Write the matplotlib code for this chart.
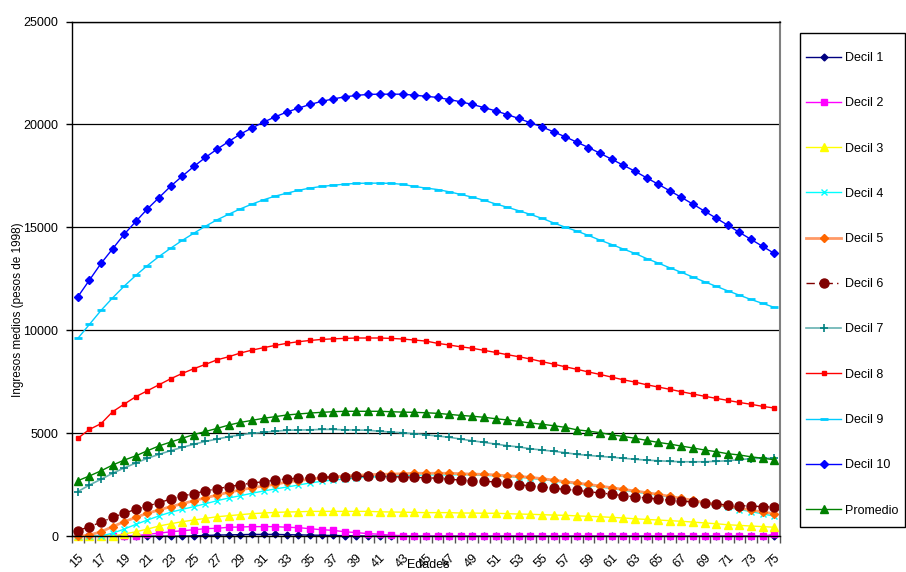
import matplotlib
matplotlib.use("Agg")
import matplotlib.pyplot as plt
from matplotlib.patches import Rectangle

plt.rcParams['font.family'] = ['Liberation Sans', 'DejaVu Sans']

# edades 15..75
ages = list(range(15, 76))

decil1 = [0, 0, 0, 0, 0, 0, 0, 0, 0, 0,
          20, 40, 60, 70, 80, 90, 90, 90, 80, 70, 60, 50, 40, 30, 20, 10, 5,
          0, 0, 0, 0, 0, 0, 0, 0, 0, 0, 0, 0, 0, 0, 0, 0, 0, 0, 0, 0, 0, 0,
          0, 0, 0, 0, 0, 0, 0, 0, 0, 0, 0, 20]
decil2 = [0, 0, 0, 0, 0,
          20, 100, 150, 220, 270, 320, 370, 390, 440, 450, 470, 470, 470, 440,
          420, 370, 320, 290, 220, 180, 130, 100, 50, 30,
          0, 0, 0, 0, 0, 0, 0, 0, 0, 0, 0, 0, 0, 0, 0, 0, 0, 0, 0, 0, 0, 0,
          0, 0, 0, 0, 0, 0, 0, 0, 0, 100]
decil3 = [0, 0, 0, 30, 110, 220, 350, 500, 610, 710, 790, 870, 950, 1000,
          1050, 1100, 1130, 1160, 1180, 1190, 1210, 1210, 1210, 1210, 1210,
          1210, 1190, 1180, 1170, 1160, 1150,
          1150, 1150, 1130, 1130, 1120, 1120, 1100, 1080, 1070, 1050, 1030,
          1020, 990, 970, 950, 920, 890, 850, 820, 790, 760, 730, 690, 650,
          610, 560, 530, 500, 470, 440]
decil4 = [0, 0, 20, 150, 350, 580, 790, 990, 1170, 1310, 1440, 1580, 1730,
          1860, 1970, 2090, 2200, 2300, 2390, 2490, 2590, 2670, 2730, 2780,
          2830, 2880, 2890, 2930, 2940, 2960, 2980, 2980, 2980,
          2990, 2975, 2960, 2930, 2895, 2865, 2815, 2750, 2690, 2605, 2540,
          2475, 2395, 2310, 2235, 2150, 2070, 1990, 1895, 1800, 1700, 1590,
          1505, 1405, 1300, 1200, 1090, 980]
decil5 = [0, 60, 220, 470, 710, 920, 1120, 1280, 1440, 1580, 1730, 1870,
          2000, 2140, 2250, 2360, 2440, 2520, 2640, 2700, 2770, 2830, 2880,
          2930, 2960, 2990, 3010, 3020, 3040, 3060, 3060, 3060, 3060,
          3040, 3020, 3010, 2980, 2940, 2910, 2860, 2800, 2730, 2650, 2590,
          2520, 2440, 2360, 2280, 2200, 2120, 2040, 1940, 1840, 1750, 1630,
          1550, 1460, 1360, 1280, 1180, 1100]
decil6 = [270, 470, 680, 920, 1120, 1310, 1470, 1630, 1810, 1960, 2070,
          2200, 2310, 2410, 2500, 2590, 2650, 2730, 2780, 2820, 2840, 2860,
          2890, 2890, 2910, 2910, 2910, 2890, 2880, 2860, 2840, 2820,
          2770, 2730, 2700, 2670, 2640, 2570, 2510, 2440, 2410, 2330, 2280,
          2230, 2170, 2100, 2050, 1970, 1920, 1860, 1810, 1750, 1700, 1670,
          1620, 1570, 1520, 1490, 1470, 1440, 1420]
decil7 = [2170, 2490, 2770, 3060, 3320, 3560, 3790, 3980, 4160, 4320, 4470,
          4610, 4720, 4840, 4920, 5000, 5050, 5100, 5150, 5160, 5170, 5190,
          5190, 5170, 5160, 5150, 5100, 5060, 5030, 4980, 4930, 4870, 4810,
          4720, 4640, 4560, 4480, 4400, 4340, 4250, 4190, 4130, 4060, 3980,
          3930, 3880, 3840, 3790, 3740, 3700, 3670, 3640, 3620, 3620, 3620,
          3640, 3670, 3720, 3770, 3790, 3790]
decil8 = [4760, 5190, 5470, 6050, 6420, 6780, 7070, 7360, 7650, 7910, 8140,
          8350, 8570, 8720, 8900, 9040, 9160, 9270, 9370, 9450, 9510, 9560,
          9590, 9610, 9630, 9630, 9630, 9610, 9580, 9530, 9480,
          9370, 9290, 9200, 9130, 9030, 8930, 8820, 8720, 8610, 8480, 8360,
          8230, 8110, 7980, 7860, 7730, 7600, 7490, 7360, 7250, 7140, 7020,
          6910, 6800, 6700, 6600, 6500, 6410, 6310, 6230]
decil9 = [9610, 10290, 10970, 11580, 12150, 12670, 13150, 13590, 13990,
          14370, 14720, 15060, 15370, 15640, 15900, 16130, 16340, 16520,
          16660, 16800, 16910, 16990, 17050, 17100, 17140, 17150, 17150,
          17140, 17090, 16990, 16910,
          16840, 16730, 16600, 16470, 16320, 16140, 15980, 15810, 15630,
          15440, 15220, 15010, 14820, 14610, 14380, 14170, 13950, 13740,
          13490, 13270, 13040, 12820, 12590, 12360, 12140, 11920, 11710,
          11500, 11310, 11120]
decil10 = [11630, 12440, 13250, 13960, 14670, 15290, 15900, 16450, 17000,
           17490, 17960, 18400, 18800, 19170, 19530, 19830, 20110, 20370,
           20600, 20790, 20970, 21120, 21240, 21340, 21410, 21460, 21470,
           21470, 21470, 21420, 21370,
           21310, 21210, 21100, 20970, 20820, 20660, 20480, 20290, 20080,
           19880, 19640, 19400, 19140, 18880, 18600, 18310, 18020, 17730,
           17410, 17100, 16780, 16460, 16130, 15790, 15450, 15110, 14760,
           14420, 14080, 13740]
promedio = [2700, 2930, 3180, 3460, 3700, 3910, 4155, 4390, 4577, 4760,
            4940, 5090, 5240, 5400, 5530, 5630, 5730, 5810, 5890, 5940, 5985,
            6020, 6050, 6070, 6070, 6070, 6070, 6050, 6030, 6020, 6000,
            5970, 5920, 5870, 5830, 5780, 5710, 5650, 5580, 5500, 5440, 5370,
            5290, 5170, 5110, 5030, 4930, 4850, 4760, 4660, 4560, 4480, 4380,
            4290, 4190, 4110, 4010, 3950, 3860, 3790, 3720]

series = [
    ("Decil 1", decil1, dict(color='#000080', marker='D', ms=3.5, lw=1)),
    ("Decil 2", decil2, dict(color='#FF00FF', marker='s', ms=5, lw=1)),
    ("Decil 3", decil3, dict(color='#FFFF00', marker='^', ms=6, lw=1)),
    ("Decil 4", decil4, dict(color='#00FFFF', marker='x', ms=4.5, lw=1, mew=1)),
    ("Decil 5", decil5, dict(color='#FF9966', mfc='#FF6600', mec='#FF6600',
                             marker='D', ms=4, lw=2)),
    ("Decil 6", decil6, dict(color='#800000', marker='o', ms=6.5, lw=1,
                             ls=(0, (6, 3, 1, 3)))),
    ("Decil 7", decil7, dict(color='#66B2B2', mec='#008080', marker='+',
                             ms=6, mew=1.2, lw=1.2)),
    ("Decil 8", decil8, dict(color='#FF0000', marker='s', ms=2.5, lw=1)),
    ("Decil 9", decil9, dict(color='#00CCFF', marker='_', ms=6, mew=2, lw=1)),
    ("Decil 10", decil10, dict(color='#0000FF', marker='D', ms=4, lw=1)),
    ("Promedio", promedio, dict(color='#008000', marker='^', ms=6, lw=1)),
]

fig = plt.figure(figsize=(9.06, 5.72), dpi=100)
ax = fig.add_axes([72 / 906, 1 - 536.3 / 572, (780 - 72) / 906, (536.3 - 21.5) / 572])

handles = []
for name, vals, style in series:
    h, = ax.plot(ages, vals, label=name, clip_on=False, **style)
    handles.append(h)

ax.set_xlim(14.5, 75.5)
ax.set_ylim(0, 25000)
ax.set_yticks([0, 5000, 10000, 15000, 20000, 25000])
ax.yaxis.grid(True, color='black', lw=0.9)
ax.set_axisbelow(True)
ax.tick_params(axis='y', length=4, width=1, pad=6, labelsize=9)

ax.set_xticks(ages[::2])
ax.set_xticklabels([str(a) for a in ages[::2]], rotation=45, ha='right',
                   rotation_mode='anchor', fontsize=9)
ax.tick_params(axis='x', which='major', length=0, pad=11)
ax.set_xticks([a - 0.5 for a in ages] + [ages[-1] + 0.5], minor=True)
ax.tick_params(axis='x', which='minor', length=5, width=1, color='#555555')

for s in ['left', 'bottom', 'top']:
    ax.spines[s].set_color('black')
    ax.spines[s].set_linewidth(1)
ax.spines['right'].set_color('#808080')
ax.spines['right'].set_linewidth(1.5)

fig.text(18 / 906, 1 - 310 / 572, "Ingresos medios (pesos de 1998)",
         rotation=90, ha='center', va='center', fontsize=8.5)
fig.text(428 / 906, 0.5 / 572, "Edades", ha='center', va='bottom', fontsize=9)

fig.legend(handles, [s[0] for s in series], loc='upper left',
           bbox_to_anchor=(806 / 906, 1 - 52 / 572), frameon=False,
           fontsize=9, labelspacing=2.66, handlelength=2.8,
           handletextpad=0.3, borderpad=0, borderaxespad=0, numpoints=1)
fig.add_artist(Rectangle((800 / 906, 1 - 527 / 572), 105 / 906, 494 / 572,
                         transform=fig.transFigure, fill=False,
                         edgecolor='black', lw=1))

fig.savefig("out.png", dpi=100)
